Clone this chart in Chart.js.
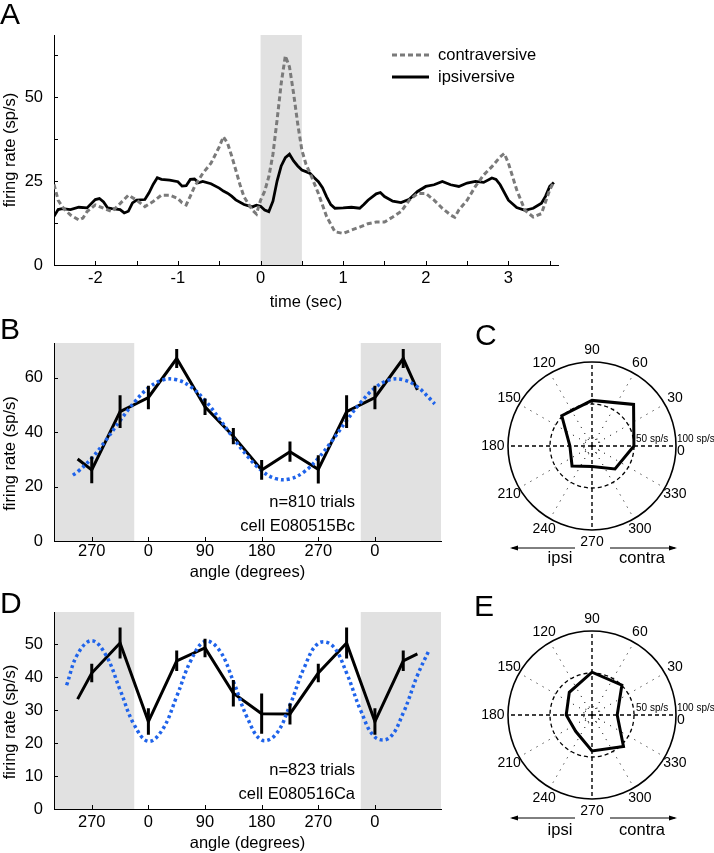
<!DOCTYPE html>
<html>
<head>
<meta charset="utf-8">
<script src="https://cdn.jsdelivr.net/npm/chart.js@4.4.1/dist/chart.umd.min.js"></script>
<style>
  body { margin: 0; background: #fff; }
  #fig { position: relative; width: 714px; height: 853px; overflow: hidden; font-family: "Liberation Sans", Arial, Helvetica, sans-serif; }
  #fig canvas { position: absolute; }
  .panel { position: absolute; font-size: 30px; line-height: 30px; color: #000; }
</style>
</head>
<body>
<div id="fig">
  <canvas id="chartA" width="600" height="312" style="left:0;top:0"></canvas>
  <canvas id="chartB" width="460" height="262" style="left:0;top:320px"></canvas>
  <canvas id="chartD" width="460" height="268" style="left:0;top:585px"></canvas>
  <canvas id="chartC" width="244" height="260" style="left:470px;top:320px"></canvas>
  <canvas id="chartE" width="244" height="264" style="left:470px;top:589px"></canvas>
  <div class="panel" style="left:0;top:-1px">A</div>
  <div class="panel" style="left:0;top:314px">B</div>
  <div class="panel" style="left:475px;top:320px">C</div>
  <div class="panel" style="left:0;top:588px">D</div>
  <div class="panel" style="left:474px;top:591px">E</div>
</div>
<script>
// ---- panel A: firing rate around the saccade ----
var TIME_CONTRA = [-2.5, -2.45, -2.4, -2.35, -2.3, -2.2, -2.15, -2.1, -2.0, -1.9, -1.8, -1.7, -1.6, -1.5, -1.4, -1.3, -1.2, -1.1, -1.0, -0.95, -0.9, -0.85, -0.8, -0.7, -0.6, -0.5, -0.45, -0.4, -0.35, -0.3, -0.25, -0.2, -0.1, -0.05, 0, 0.05, 0.1, 0.15, 0.2, 0.25, 0.3, 0.35, 0.4, 0.45, 0.5, 0.55, 0.6, 0.7, 0.8, 0.9, 1.0, 1.1, 1.2, 1.3, 1.4, 1.5, 1.6, 1.7, 1.8, 1.9, 2.0, 2.1, 2.2, 2.3, 2.35, 2.4, 2.5, 2.6, 2.7, 2.8, 2.9, 2.95, 3.0, 3.1, 3.2, 3.3, 3.4, 3.5, 3.55];
var RATE_CONTRA = [24.0, 19.3, 17.4, 16.0, 14.9, 13.4, 14.0, 15.9, 17.9, 16.9, 15.9, 18.3, 20.8, 19.3, 17.4, 18.9, 20.8, 20.8, 19.8, 18.5, 17.9, 20.5, 23.3, 27.3, 30.3, 35.2, 38.2, 36.3, 32.5, 28.3, 24.0, 20.3, 16.4, 15.2, 19.3, 22.0, 26.3, 33.0, 43.2, 54.1, 62.3, 59.0, 51.1, 42.0, 34.2, 30.0, 27.3, 21.3, 14.4, 9.9, 9.4, 10.4, 11.3, 12.3, 12.8, 12.8, 14.3, 15.9, 19.3, 21.3, 21.3, 19.3, 16.9, 14.9, 14.2, 16.4, 19.3, 23.4, 26.8, 29.3, 32.2, 33.2, 30.3, 22.4, 16.3, 14.3, 15.3, 22.4, 24.8];
var TIME_IPSI = [-2.5, -2.45, -2.4, -2.3, -2.2, -2.1, -2.0, -1.95, -1.9, -1.85, -1.8, -1.7, -1.65, -1.6, -1.55, -1.5, -1.4, -1.35, -1.3, -1.25, -1.2, -1.1, -1.0, -0.95, -0.9, -0.85, -0.8, -0.75, -0.7, -0.6, -0.5, -0.45, -0.4, -0.35, -0.3, -0.2, -0.1, -0.05, 0, 0.05, 0.1, 0.15, 0.2, 0.25, 0.3, 0.35, 0.4, 0.45, 0.5, 0.55, 0.6, 0.65, 0.7, 0.75, 0.8, 0.85, 0.9, 1.0, 1.1, 1.2, 1.25, 1.3, 1.4, 1.45, 1.5, 1.6, 1.7, 1.8, 1.9, 2.0, 2.1, 2.2, 2.3, 2.4, 2.5, 2.6, 2.7, 2.8, 2.85, 2.9, 3.0, 3.1, 3.2, 3.3, 3.4, 3.45, 3.5, 3.55];
var RATE_IPSI = [14.5, 16.5, 16.8, 16.5, 17.2, 17.0, 19.5, 19.8, 18.8, 17.0, 16.8, 16.5, 15.5, 16.0, 18.5, 19.3, 19.5, 21.5, 24.0, 26.0, 25.5, 25.3, 24.8, 23.5, 23.6, 25.5, 25.6, 24.5, 24.9, 24.2, 22.9, 22.0, 21.4, 20.5, 19.4, 18.0, 17.3, 17.8, 17.5, 16.4, 15.9, 19.0, 25.0, 29.5, 32.0, 33.0, 31.0, 29.5, 28.3, 27.8, 27.3, 26.0, 24.8, 23.0, 20.3, 18.0, 16.9, 17.0, 17.2, 16.9, 18.0, 19.3, 21.2, 21.6, 20.4, 19.0, 18.6, 19.6, 21.9, 23.4, 23.9, 24.9, 23.9, 23.4, 24.4, 24.9, 24.6, 25.9, 25.5, 23.9, 19.3, 17.1, 16.3, 16.9, 18.4, 20.5, 23.4, 24.6];
var STIM_WINDOW = [0, 0.5];

// ---- panels B and D: tuning curves (angles wrap, repeats are shaded) ----
var ANGLE_TICKS = [-90, 0, 90, 180, 270, 360];
var WRAP_ZONES = [[-150, -22.5], [337.5, 465]];
var DIR_ANGLES = [-112.5, -90, -45, 0, 45, 90, 135, 180, 225, 270, 315, 360, 405, 427.5];
var RATE_B = [30.1, 26.1, 47.5, 52.7, 67.0, 49.3, 38.5, 26.1, 32.8, 26.3, 47.5, 52.7, 67.0, 55.5];
var SEM_B = [null, 4.9, 6.0, 4.3, 3.5, 3.0, 3.0, 3.6, 3.7, 5.2, 6.0, 4.3, 3.5, null];
var FIT_ANGLES_B = [-120, -112.5, -90, -67.5, -45, -22.5, 0, 22.5, 45, 67.5, 90, 112.5, 135, 157.5, 180, 202.5, 225, 247.5, 270, 292.5, 315, 337.5, 360, 382.5, 405, 427.5, 450, 455];
var FIT_B = [24.2, 25.4, 30.4, 37.0, 44.2, 50.9, 56.2, 59.1, 59.2, 56.6, 51.6, 45.0, 37.8, 31.1, 25.8, 22.9, 22.8, 25.4, 30.4, 37.0, 44.2, 50.9, 56.2, 59.1, 59.2, 56.6, 51.6, 50.3];
var RATE_D = [33.3, 41.2, 50.3, 26.5, 44.9, 48.8, 35.1, 28.9, 28.8, 41.2, 50.3, 26.5, 44.9, 47.0];
var SEM_D = [null, 2.8, 4.7, 4.0, 3.1, 2.8, 4.0, 6.1, 3.2, 2.8, 4.7, 4.0, 3.1, null];
var FIT_ANGLES_D = [-130, -112.5, -90, -67.5, -45, -22.5, 0, 22.5, 45, 67.5, 90, 112.5, 135, 157.5, 180, 202.5, 225, 247.5, 270, 292.5, 315, 337.5, 360, 382.5, 405, 427.5, 446];
var FIT_D = [37.5, 46.9, 51.0, 46.6, 36.1, 25.5, 20.5, 24.1, 34.1, 45.0, 50.8, 48.2, 38.7, 27.5, 20.9, 22.6, 31.5, 42.8, 50.2, 49.5, 41.2, 29.8, 21.8, 21.5, 29.1, 40.5, 48.1];

// ---- panels C and E: polar plots ----
var POLAR_DIRS = [0, 45, 90, 135, 180, 225, 270, 315];
var POLAR_C = [49.9, 70.0, 54.3, 50.9, 26.3, 33.6, 24.4, 38.7];
var POLAR_E = [30.0, 50.3, 51.0, 38.2, 30.7, 27.5, 42.7, 53.0];
var RING_VALUES = [0, 10, 50, 100];

var FONT = '"Liberation Sans", Arial, Helvetica, sans-serif';
Chart.defaults.font.family = FONT;
Chart.defaults.font.size = 16.5;
Chart.defaults.color = '#000';

// radar spokes every 15 deg, going counter-clockwise from the right
var RING_LABELS = [];
for (var i = 0; i < 24; i++) RING_LABELS.push((360 - 15 * i) % 360);

function toPoints(xs, ys) {
    return xs.map(function(x, k) { return { x: x, y: ys[k] }; });
}

function ringData(rates) {
    var arr = RING_LABELS.map(function() { return null; });
    POLAR_DIRS.forEach(function(d, k) { arr[((360 - d) % 360) / 15] = rates[k]; });
    return arr;
}

function wrapAngle(v) {
    return String(((v % 360) + 360) % 360);
}

function shadePlugin(zones) {
    return {
        id: 'shade',
        beforeDraw: function(chart) {
            var a = chart.chartArea, sx = chart.scales.x, ctx = chart.ctx;
            ctx.save();
            ctx.fillStyle = '#e1e1e1';
            zones.forEach(function(z) {
                var x0 = Math.max(a.left, sx.getPixelForValue(z[0]));
                var x1 = Math.min(a.right, sx.getPixelForValue(z[1]));
                ctx.fillRect(x0, a.top, x1 - x0, a.bottom - a.top);
            });
            ctx.restore();
        }
    };
}

// MATLAB style ticks pointing into the plot
var inTicks = {
    id: 'inTicks',
    afterDraw: function(chart) {
        var a = chart.chartArea, ctx = chart.ctx, sx = chart.scales.x, sy = chart.scales.y;
        ctx.save();
        ctx.strokeStyle = '#000';
        ctx.lineWidth = 1;
        ctx.beginPath();
        sx.ticks.forEach(function(t) {
            var p = Math.round(sx.getPixelForValue(t.value)) + 0.5;
            ctx.moveTo(p, a.bottom);
            ctx.lineTo(p, a.bottom - 4);
        });
        sy.ticks.forEach(function(t) {
            var p = Math.round(sy.getPixelForValue(t.value)) + 0.5;
            ctx.moveTo(a.left, p);
            ctx.lineTo(a.left + 4, p);
        });
        ctx.stroke();
        ctx.restore();
    }
};

function errorBarPlugin(xs, ys, errs, note) {
    return {
        id: 'errBars',
        afterDatasetsDraw: function(chart) {
            var ctx = chart.ctx, sx = chart.scales.x, sy = chart.scales.y, a = chart.chartArea;
            ctx.save();
            ctx.strokeStyle = '#000';
            ctx.lineWidth = 3;
            ctx.beginPath();
            xs.forEach(function(x, k) {
                if (errs[k] == null) return;
                var px = sx.getPixelForValue(x);
                ctx.moveTo(px, sy.getPixelForValue(ys[k] - errs[k]));
                ctx.lineTo(px, sy.getPixelForValue(ys[k] + errs[k]));
            });
            ctx.stroke();
            ctx.fillStyle = '#000';
            ctx.font = '16.5px ' + FONT;
            ctx.textAlign = 'right';
            ctx.textBaseline = 'middle';
            ctx.fillText(note[0], a.left + 301, a.bottom - 38.5);
            ctx.fillText(note[1], a.left + 301, a.bottom - 15);
            ctx.restore();
        }
    };
}

var legendA = {
    id: 'legendA',
    afterDraw: function(chart) {
        var ctx = chart.ctx;
        ctx.save();
        ctx.lineWidth = 3;
        ctx.strokeStyle = '#7a7a7a';
        ctx.setLineDash([5, 3]);
        ctx.beginPath(); ctx.moveTo(392, 55); ctx.lineTo(429, 55); ctx.stroke();
        ctx.setLineDash([]);
        ctx.strokeStyle = '#000';
        ctx.beginPath(); ctx.moveTo(392, 77); ctx.lineTo(429, 77); ctx.stroke();
        ctx.fillStyle = '#000';
        ctx.font = '16.5px ' + FONT;
        ctx.textBaseline = 'middle';
        ctx.fillText('contraversive', 438, 55);
        ctx.fillText('ipsiversive', 438, 77);
        ctx.restore();
    }
};

function cartesianScales(opt) {
    return {
        x: {
            type: 'linear', min: opt.xmin, max: opt.xmax,
            afterFit: function(s) { s.height = opt.xh; },
            afterBuildTicks: opt.xticks ? function(s) { s.ticks = opt.xticks.map(function(v) { return { value: v }; }); } : undefined,
            grid: { display: false, drawTicks: false },
            border: { display: true, color: '#000', width: 1 },
            ticks: { stepSize: opt.xstep, includeBounds: false, autoSkip: false, maxRotation: 0, padding: opt.xpad, callback: opt.xcb },
            title: { display: true, text: opt.xtitle, padding: { top: 0, bottom: 0 } }
        },
        y: {
            min: 0, max: opt.ymax,
            afterFit: function(s) { s.width = 54; },
            grid: { display: false, drawTicks: false },
            border: { display: true, color: '#000', width: 1 },
            ticks: { stepSize: opt.ystep, includeBounds: false, padding: 11, callback: opt.ycb },
            title: { display: true, text: opt.ytitle, padding: { top: 1, bottom: 0 } }
        }
    };
}

function tuningChart(id, rates, sems, fitAngles, fit, ymax, ystep, padTop, xh, xpad, note) {
    return new Chart(document.getElementById(id), {
        type: 'line',
        data: {
            datasets: [
                {
                    data: toPoints(fitAngles, fit),
                    borderColor: '#1f63ea', borderWidth: 3.5, borderDash: [3, 3],
                    pointRadius: 0, tension: 0.4
                },
                {
                    data: toPoints(DIR_ANGLES, rates),
                    borderColor: '#000', borderWidth: 3,
                    pointRadius: 0, tension: 0
                }
            ]
        },
        options: {
            responsive: false, animation: false,
            layout: { padding: { top: padTop, right: 19, left: 0, bottom: 0 } },
            plugins: { legend: { display: false }, tooltip: { enabled: false } },
            scales: cartesianScales({
                xmin: -150, xmax: 465, xh: xh, xpad: xpad, xticks: ANGLE_TICKS,
                xcb: wrapAngle, xtitle: 'angle (degrees)',
                ymax: ymax, ystep: ystep, ycb: function(v) { return String(v); },
                // label sits a little below the axis middle, as in the figure
                ytitle: 'firing rate (sp/s)\u00a0\u00a0\u00a0\u00a0\u00a0'
            })
        },
        plugins: [shadePlugin(WRAP_ZONES), inTicks, errorBarPlugin(DIR_ANGLES, rates, sems, note)]
    });
}

function polarOverlay(arrowDy, textDy) {
    return {
        id: 'polarText',
        afterDraw: function(chart) {
            var s = chart.scales.r, ctx = chart.ctx, cx = s.xCenter, cy = s.yCenter, R = s.drawingArea;
            ctx.save();
            ctx.fillStyle = '#000';
            ctx.textBaseline = 'middle';
            ctx.font = '14px ' + FONT;
            RING_LABELS.forEach(function(lab, i) {
                if (lab % 30 !== 0) return;
                if (lab === 0) {
                    ctx.textAlign = 'left';
                    ctx.fillText('0', cx + R + 1, cy + 5);
                    return;
                }
                var p = s.getPointPosition(i, s.getDistanceFromCenterForValue(lab === 180 ? 118 : 114));
                ctx.textAlign = 'center';
                ctx.fillText(String(lab), p.x, p.y);
            });
            ctx.font = '10px ' + FONT;
            ctx.textAlign = 'left';
            ctx.fillText('50 sp/s', cx + s.getDistanceFromCenterForValue(50) + 2, cy - 7);
            ctx.fillText('100 sp/s', cx + R + 1, cy - 7);
            // direction arrows
            var y = cy + arrowDy;
            ctx.strokeStyle = '#000';
            ctx.lineWidth = 1;
            ctx.beginPath();
            ctx.moveTo(cx - 17, y); ctx.lineTo(cx - 80, y);
            ctx.moveTo(cx + 18, y); ctx.lineTo(cx + 83, y);
            ctx.stroke();
            ctx.beginPath();
            ctx.moveTo(cx - 82, y); ctx.lineTo(cx - 74, y - 2.5); ctx.lineTo(cx - 74, y + 2.5); ctx.closePath();
            ctx.moveTo(cx + 85, y); ctx.lineTo(cx + 77, y - 2.5); ctx.lineTo(cx + 77, y + 2.5); ctx.closePath();
            ctx.fill();
            ctx.font = '16.5px ' + FONT;
            ctx.textAlign = 'center';
            ctx.fillText('ipsi', cx - 32, cy + textDy);
            ctx.fillText('contra', cx + 50, cy + textDy);
            ctx.restore();
        }
    };
}

function polarChart(id, rates, padBottom, arrowDy, textDy) {
    return new Chart(document.getElementById(id), {
        type: 'radar',
        data: {
            labels: RING_LABELS,
            datasets: [{
                data: ringData(rates),
                borderColor: '#000', borderWidth: 3, fill: false,
                pointRadius: 0, spanGaps: true, tension: 0
            }]
        },
        options: {
            responsive: false, animation: false,
            layout: { padding: { left: 38, right: 38, top: 42, bottom: padBottom } },
            plugins: { legend: { display: false }, tooltip: { enabled: false } },
            scales: {
                r: {
                    min: 0, max: 100, startAngle: 90,
                    afterBuildTicks: function(s) { s.ticks = RING_VALUES.map(function(v) { return { value: v }; }); },
                    ticks: { display: false },
                    pointLabels: { display: false },
                    grid: {
                        circular: true,
                        color: function(c) { return c.tick && c.tick.value === 10 ? '#444' : '#000'; },
                        lineWidth: function(c) { return c.tick && c.tick.value === 100 ? 1.6 : 1.3; }
                    },
                    border: {
                        dash: function(c) {
                            if (!c.tick) return [];
                            if (c.tick.value === 10) return [1, 3];
                            if (c.tick.value === 50) return [4, 3];
                            return [];
                        }
                    },
                    angleLines: {
                        color: function(c) { return RING_LABELS[c.index] % 30 === 0 ? '#000' : 'rgba(0,0,0,0)'; },
                        lineWidth: function(c) { return RING_LABELS[c.index] % 90 === 0 ? 1.4 : 1; },
                        borderDash: function(c) { return RING_LABELS[c.index] % 90 === 0 ? [4, 3] : [1, 6]; }
                    }
                }
            }
        },
        plugins: [polarOverlay(arrowDy, textDy)]
    });
}

document.addEventListener('DOMContentLoaded', function() {
    new Chart(document.getElementById('chartA'), {
        type: 'line',
        data: {
            datasets: [
                {
                    label: 'contraversive',
                    data: toPoints(TIME_CONTRA, RATE_CONTRA),
                    borderColor: '#7a7a7a', borderWidth: 3, borderDash: [5, 3],
                    pointRadius: 0, tension: 0
                },
                {
                    label: 'ipsiversive',
                    data: toPoints(TIME_IPSI, RATE_IPSI),
                    borderColor: '#000', borderWidth: 2.8,
                    pointRadius: 0, tension: 0
                }
            ]
        },
        options: {
            responsive: false, animation: false,
            layout: { padding: { top: 35, right: 42, left: 0, bottom: 0 } },
            plugins: { legend: { display: false }, tooltip: { enabled: false } },
            scales: cartesianScales({
                xmin: -2.5, xmax: 3.6, xh: 47, xpad: 4, xstep: 0.5, xtitle: 'time (sec)',
                xcb: function(v) { return Number.isInteger(v) ? String(v) : ''; },
                ymax: 68.5, ystep: 12.5,
                ycb: function(v) { return v % 25 === 0 ? String(v) : ''; },
                ytitle: 'firing rate (sp/s)'
            })
        },
        plugins: [shadePlugin([STIM_WINDOW]), inTicks, legendA]
    });

    tuningChart('chartB', RATE_B, SEM_B, FIT_ANGLES_B, FIT_B, 72.7, 20, 23, 41, 1, ['n=810 trials', 'cell E080515Bc']);
    tuningChart('chartD', RATE_D, SEM_D, FIT_ANGLES_D, FIT_D, 59.7, 10, 27, 44, 4, ['n=823 trials', 'cell E080516Ca']);

    polarChart('chartC', POLAR_C, 50, 102, 112);
    polarChart('chartE', POLAR_E, 54, 103, 115);
});
</script>
</body>
</html>
